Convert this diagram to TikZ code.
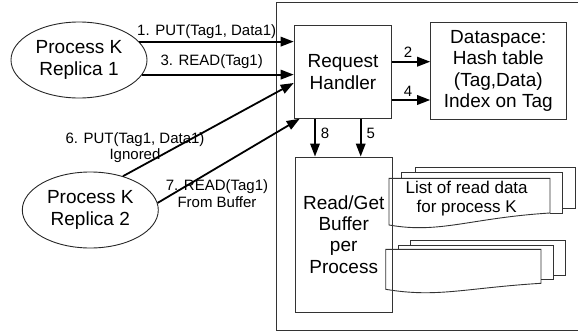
\documentclass[tikz,border=0pt]{standalone}
\usepackage{fontspec}
\setmainfont{Liberation Sans}
\usetikzlibrary{arrows.meta,shapes.geometric,calc}
\begin{document}
\begin{tikzpicture}[x=1pt,y=-1pt,
  box/.style={draw=black!80,line width=0.9pt,inner sep=0pt,font=\fontsize{19}{21.3}\selectfont,align=center},
  oval/.style={ellipse,draw=black!85,line width=0.9pt,inner sep=0pt,minimum width=136pt,minimum height=76pt,font=\fontsize{19}{22}\selectfont,align=center},
  arr/.style={line width=1.8pt,-{Triangle[length=13pt,width=9.5pt]}},
  lbl/.style={font=\fontsize{15}{16.5}\selectfont,align=center,inner sep=0pt},
  doc/.style={draw=black!80,line width=0.9pt}]
\useasboundingbox (0,0) rectangle (578,332);
% outer frame
\draw[black!80,line width=0.9pt] (578,2.7) -- (276.7,2.7) -- (276.7,330.5) -- (578,330.5);
% boxes
\node[box,minimum width=97.7pt,minimum height=92.6pt] (rh) at (343,72) {Request\\Handler};
\node[box,minimum width=135.3pt,minimum height=96.3pt] (ds) at (498.3,70.9) {Dataspace:\\Hash table\\(Tag,Data)\\Index on Tag};
\node[box,minimum width=96.5pt,minimum height=155pt] (buf) at (343.7,234.5) {Read/Get\\Buffer\\per\\Process};
% ellipses
\node[oval] (e1) at (79,60) {Process K\\Replica 1};
\node[oval] (e2) at (90.3,210) {Process K\\Replica 2};
% documents, upper group
\draw[doc] (415,172.7) -- (415,167.3) -- (575,167.3) -- (575,208) -- (562.7,208);
\draw[doc] (401.7,178.3) -- (401.7,172.7) -- (562.7,172.7) -- (562.7,213) -- (550,213);
\draw[doc] (389,178.3) -- (550,178.3) -- (550,213) .. controls (470,218) and (440,234) .. (389,225) -- cycle;
\node[font=\fontsize{17}{19}\selectfont,align=center,inner sep=0pt] (dt) at (466.7,198.5) {List of read data\\for process K};
% documents, lower group
\draw[doc] (410.7,245) -- (410.7,240.7) -- (565.7,240.7) -- (565.7,275) -- (553,275);
\draw[doc] (398,249.3) -- (398,245) -- (553,245) -- (553,279.3) -- (541,279.3);
\draw[doc] (385.7,249.3) -- (541,249.3) -- (541,283.3) .. controls (465,288) and (437,298) .. (385.7,289.3) -- cycle;
% arrows
\draw[arr] (e1.17) -- (e1.17 -| rh.west);
\draw[arr] (e1.-13.5) -- (e1.-13.5 -| rh.west);
\draw[arr] (e2.46) -- ([yshift=-11pt]rh.west);
\draw[arr] (e2.6) -- ([xshift=6pt]rh.south west);
\draw[arr] ([yshift=10.3pt]rh.east) -- ([yshift=10.3pt]rh.east -| ds.west);
\draw[arr] ([yshift=-28pt]rh.east) -- ([yshift=-28pt]rh.east -| ds.west);
\draw[arr] ([xshift=-28pt]rh.south) -- ([xshift=-28pt]rh.south |- buf.north);
\draw[arr] ([xshift=17.7pt]rh.south) -- ([xshift=17.7pt]rh.south |- buf.north);
% labels
\node[lbl] (l1) at (206.7,32) {1. PUT(Tag1, Data1)};
\node[lbl] (l3) at (211.7,62) {3. READ(Tag1)};
\node[lbl] (l6) at (135,147.5) {6. PUT(Tag1, Data1)\\Ignored};
\node[lbl] (l7) at (217,193.5) {7. READ(Tag1)\\From Buffer};
\node[lbl] (l2) at (408,52.7) {2};
\node[lbl] (l4) at (408,91.7) {4};
\node[lbl] (l8) at (325,133.3) {8};
\node[lbl] (l5) at (370.7,133) {5};
\end{tikzpicture}
\end{document}
